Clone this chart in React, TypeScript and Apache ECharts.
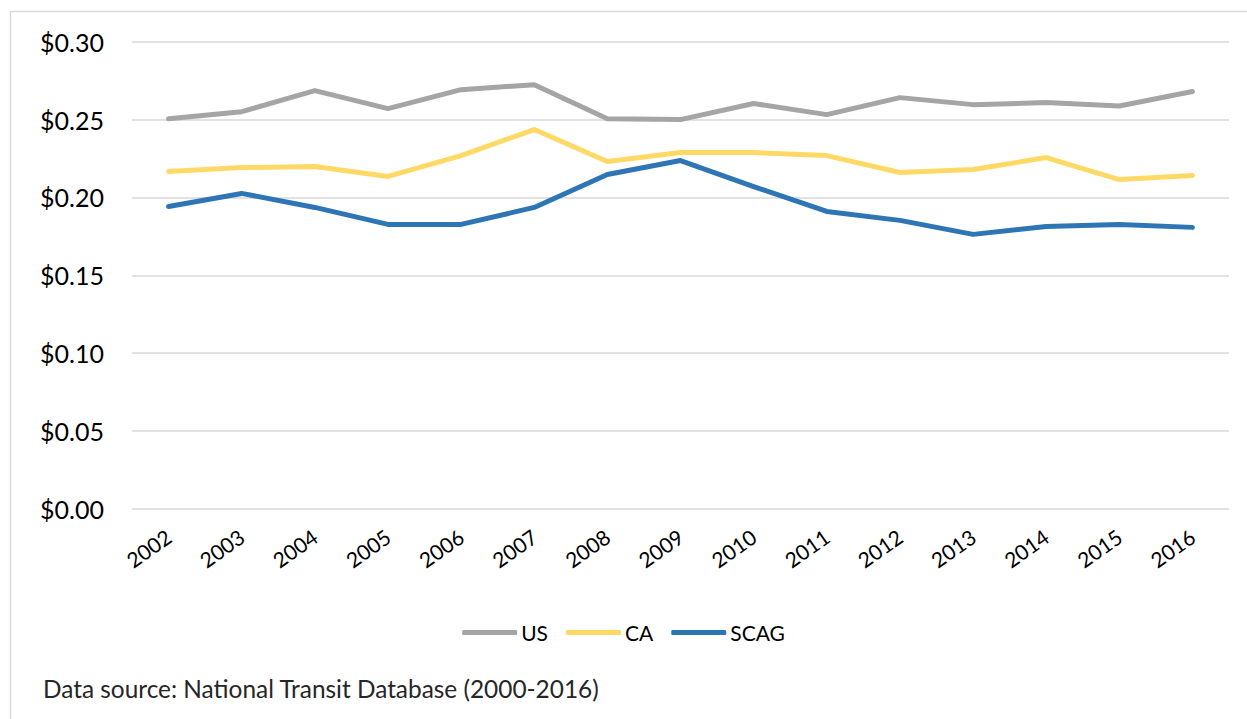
import React, { useEffect, useRef } from "react";
import * as echarts from "echarts";

const years = ["2002","2003","2004","2005","2006","2007","2008","2009","2010","2011","2012","2013","2014","2015","2016"];
const usValues = [0.2506,0.2551,0.2686,0.257,0.2692,0.2724,0.2506,0.2500,0.2603,0.2532,0.2641,0.2596,0.2609,0.2587,0.2680];
const caValues = [0.2167,0.2192,0.2199,0.2135,0.2269,0.2436,0.2231,0.2288,0.2288,0.2269,0.2160,0.2179,0.2256,0.2115,0.2141];
const scagValues = [0.1942,0.2026,0.1936,0.1827,0.1827,0.1936,0.2147,0.2237,0.2070,0.1910,0.1853,0.1763,0.1814,0.1827,0.1808];
const sourceText = "Data source: National Transit Database (2000-2016)";

const FONT = "Lato, 'Open Sans', sans-serif";

export default function App() {
  const ref = useRef<HTMLDivElement>(null);
  useEffect(() => {
    const chart = echarts.init(ref.current!, null, { renderer: "svg" });
    const mk = (name: string, data: number[], color: string) => ({
      name,
      type: "line",
      data,
      symbol: "none",
      lineStyle: { width: 5, color, cap: "round", join: "round" },
      itemStyle: { color },
    });
    chart.setOption({
      animation: false,
      backgroundColor: "#ffffff",
      textStyle: { fontFamily: FONT },
      grid: { left: 132, right: 18, top: 41.7, bottom: 210, containLabel: false },
      xAxis: {
        type: "category",
        data: years,
        boundaryGap: true,
        axisLine: { show: false },
        axisTick: { show: false },
        axisLabel: { rotate: 35, fontSize: 21, color: "#000", fontFamily: FONT, margin: 25 },
      },
      yAxis: {
        type: "value",
        min: 0,
        max: 0.3,
        interval: 0.05,
        axisLine: { show: false },
        axisTick: { show: false },
        splitLine: { lineStyle: { color: "#D9D9D9", width: 1.5 } },
        axisLabel: {
          fontSize: 25,
          color: "#000",
          fontFamily: FONT,
          margin: 28,
          formatter: (v: number) => "$" + v.toFixed(2),
        },
      },
      legend: {
        bottom: 71,
        left: "center",
        itemWidth: 55,
        itemHeight: 5,
        itemGap: 18,
        icon: "roundRect",
        textStyle: { fontSize: 21, color: "#000", fontFamily: FONT, padding: [0, 0, 0, -1] },
        data: ["US", "CA", "SCAG"],
      },
      graphic: [
        {
          type: "rect",
          shape: { x: 10.5, y: 11.5, width: 1260, height: 760 },
          style: { fill: "none", stroke: "#D9D9D9", lineWidth: 1.5 },
          silent: true,
        },
        {
          type: "text",
          left: 43,
          top: 676,
          style: { text: sourceText, fontSize: 24.4, fill: "#262626", fontFamily: FONT },
        },
      ],
      series: [
        mk("US", usValues, "#A5A5A5"),
        mk("CA", caValues, "#FFD966"),
        mk("SCAG", scagValues, "#2E75B6"),
      ],
    });
    return () => chart.dispose();
  }, []);
  return <div ref={ref} style={{ position: "fixed", left: 0, top: 0, width: 1247, height: 719 }} />;
}
